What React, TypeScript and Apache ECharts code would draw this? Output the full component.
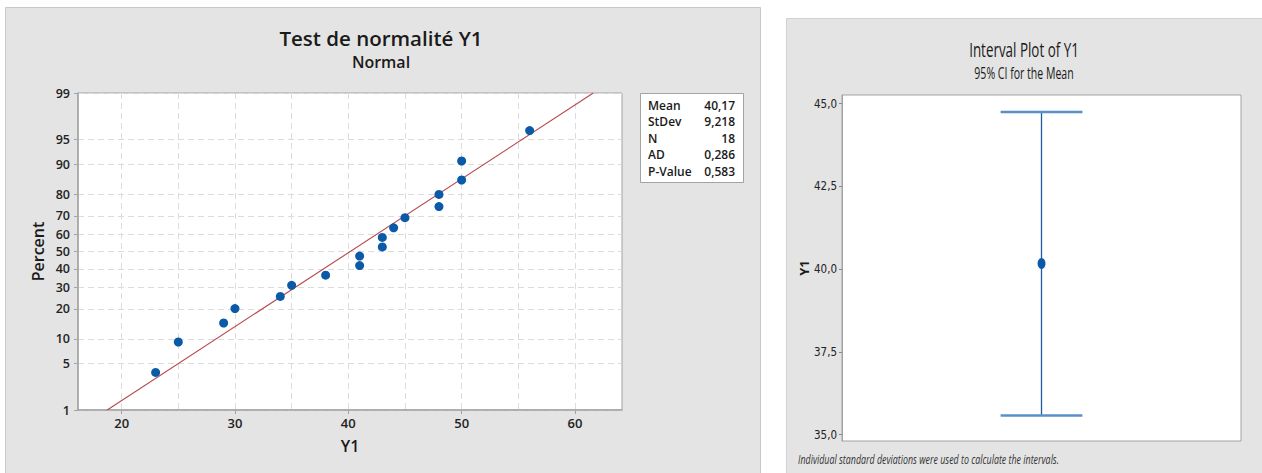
import React, { useEffect, useRef } from 'react';
import * as echarts from 'echarts';

// Sample Y1 (sorted) and the median-rank plotting percents used on the probability axis
const Y1_VALUES = [23, 25, 29, 30, 34, 35, 38, 41, 41, 43, 43, 44, 45, 48, 48, 50, 50, 56];
const PLOT_PERCENTS = [3.8, 9.2, 14.7, 20.1, 25.5, 31.0, 36.4, 41.8, 47.3, 52.7, 58.2, 63.6, 69.0, 74.5, 79.9, 85.3, 90.8, 96.2];

// Axis ticks
const PERCENT_TICKS = [1, 5, 10, 20, 30, 40, 50, 60, 70, 80, 90, 95, 99];
const X_LABEL_TICKS = [20, 30, 40, 50, 60];
const X_GRID_TICKS = [20, 25, 30, 35, 40, 45, 50, 55, 60];
const CI_TICKS = [35, 37.5, 40, 42.5, 45];

// Summary statistics
const MEAN = 40.17;
const STDEV = 9.218;
const N = 18;
const AD = 0.286;
const P_VALUE = 0.583;
const STAT_NAMES = ['Mean', 'StDev', 'N', 'AD', 'P-Value'];
const STAT_VALUES = [MEAN.toFixed(2), STDEV.toFixed(3), String(N), AD.toFixed(3), P_VALUE.toFixed(3)].map((s) =>
  s.replace('.', ',')
);

// 95% confidence interval for the mean
const CI_LOW = 35.58;
const CI_HIGH = 44.75;

// Inverse standard normal CDF (Acklam's rational approximation)
function probit(p: number): number {
  const a = [-3.969683028665376e1, 2.209460984245205e2, -2.759285104469687e2, 1.38357751867269e2, -3.066479806614716e1, 2.506628277459239];
  const b = [-5.447609879822406e1, 1.615858368580409e2, -1.556989798598866e2, 6.680131188771972e1, -1.328068155288572e1];
  const c = [-7.784894002430293e-3, -3.223964580411365e-1, -2.400758277161838, -2.549732539343734, 4.374664141464968, 2.938163982698783];
  const d = [7.784695709041462e-3, 3.224671290700398e-1, 2.445134137142996, 3.754408661907416];
  const pl = 0.02425;
  if (p < pl) {
    const q = Math.sqrt(-2 * Math.log(p));
    return (((((c[0] * q + c[1]) * q + c[2]) * q + c[3]) * q + c[4]) * q + c[5]) / ((((d[0] * q + d[1]) * q + d[2]) * q + d[3]) * q + 1);
  }
  if (p > 1 - pl) {
    const q = Math.sqrt(-2 * Math.log(1 - p));
    return -(((((c[0] * q + c[1]) * q + c[2]) * q + c[3]) * q + c[4]) * q + c[5]) / ((((d[0] * q + d[1]) * q + d[2]) * q + d[3]) * q + 1);
  }
  const q = p - 0.5;
  const r = q * q;
  return ((((((a[0] * r + a[1]) * r + a[2]) * r + a[3]) * r + a[4]) * r + a[5]) * q) / (((((b[0] * r + b[1]) * r + b[2]) * r + b[3]) * r + b[4]) * r + 1);
}

const Z_TICKS = PERCENT_TICKS.map((p) => probit(p / 100));
const Z_MIN = probit(0.01);
const Z_MAX = probit(0.99);

const FONT = "'Open Sans', 'Noto Sans', sans-serif";
const NARROW = "'Liberation Sans Narrow', 'DejaVu Sans Condensed', 'Open Sans', sans-serif";
const TEXT_COLOR = '#1a1a1a';
const PANEL_BG = '#e4e4e4';
const PANEL_BORDER = '#c9c9c9';
const FRAME = '#a3a3a3';
const GRID_LINE = '#dcdcdc';
const POINT_BLUE = '#0b5aa8';

export default function App() {
  const ref = useRef<HTMLDivElement>(null);

  useEffect(() => {
    if (!ref.current) return;
    const chart = echarts.init(ref.current, undefined, { renderer: 'svg' });

    const statTexts: any[] = [];
    STAT_NAMES.forEach((name, i) => {
      const y = 105 + i * 16.5;
      statTexts.push({
        type: 'text', x: 648, y, z: 100,
        style: { text: name, font: `600 12px ${FONT}`, fill: TEXT_COLOR, textAlign: 'left', textVerticalAlign: 'middle' },
      });
      statTexts.push({
        type: 'text', x: 735, y, z: 100,
        style: { text: STAT_VALUES[i], font: `600 12px ${FONT}`, fill: TEXT_COLOR, textAlign: 'right', textVerticalAlign: 'middle' },
      });
    });

    const option: any = {
      animation: false,
      backgroundColor: '#ffffff',
      graphic: [
        // panel backgrounds
        { type: 'rect', z: -10, shape: { x: 5.5, y: 7.5, width: 755, height: 470 }, style: { fill: PANEL_BG, stroke: PANEL_BORDER, lineWidth: 1 } },
        { type: 'rect', z: -10, shape: { x: 786.5, y: 18.5, width: 480, height: 460 }, style: { fill: PANEL_BG, stroke: '#d2d2d2', lineWidth: 1 } },
        // probability plot titles
        { type: 'text', x: 381, y: 38, z: 100, style: { text: 'Test de normalité Y1', font: `600 20.5px ${FONT}`, fill: TEXT_COLOR, textAlign: 'center', textVerticalAlign: 'middle' } },
        { type: 'text', x: 381, y: 62, z: 100, style: { text: 'Normal', font: `600 16px ${FONT}`, fill: TEXT_COLOR, textAlign: 'center', textVerticalAlign: 'middle' } },
        // statistics box
        { type: 'rect', z: 5, shape: { x: 640.5, y: 93.5, width: 103, height: 89 }, style: { fill: '#ffffff', stroke: FRAME, lineWidth: 1 } },
        ...statTexts,
        // interval plot titles
        { type: 'text', x: 1024, y: 49, z: 100, scaleX: 0.67, style: { text: 'Interval Plot of Y1', font: `400 20px ${FONT}`, fill: TEXT_COLOR, textAlign: 'center', textVerticalAlign: 'middle' } },
        { type: 'text', x: 1024, y: 73, z: 100, scaleX: 0.68, style: { text: '95% CI for the Mean', font: `400 15.5px ${FONT}`, fill: TEXT_COLOR, textAlign: 'center', textVerticalAlign: 'middle' } },
        { type: 'text', x: 798, y: 459, z: 100, scaleX: 0.74, style: { text: 'Individual standard deviations were used to calculate the intervals.', font: `italic 400 12px ${FONT}`, fill: '#333333', textAlign: 'left', textVerticalAlign: 'middle' } },
      ],
      grid: [
        { left: 78, top: 93, width: 544, height: 317, show: true, backgroundColor: '#ffffff', borderColor: FRAME, borderWidth: 1, containLabel: false, outerBoundsMode: 'none' },
        { left: 842, top: 95, width: 399, height: 346, show: true, backgroundColor: '#ffffff', borderColor: FRAME, borderWidth: 1, containLabel: false, outerBoundsMode: 'none' },
      ],
      xAxis: [
        {
          type: 'value', gridIndex: 0, min: 16.15, max: 64.15, position: 'bottom',
          name: 'Y1', nameLocation: 'middle', nameGap: 28,
          nameTextStyle: { fontFamily: FONT, fontSize: 16, fontWeight: 600, color: TEXT_COLOR },
          axisLine: { show: true, onZero: false, lineStyle: { color: FRAME, width: 1.5 } },
          axisTick: { show: true, length: 4, lineStyle: { color: FRAME }, customValues: X_LABEL_TICKS },
          axisLabel: { customValues: X_LABEL_TICKS, margin: 6, fontFamily: FONT, fontSize: 13, fontWeight: 600, color: '#222' },
          splitLine: { show: false },
        },
        {
          type: 'value', gridIndex: 0, min: 16.15, max: 64.15, position: 'bottom',
          axisLine: { show: false, onZero: false },
          axisTick: { show: false, customValues: X_GRID_TICKS },
          axisLabel: { show: false, customValues: X_GRID_TICKS },
          splitLine: { show: true, lineStyle: { color: GRID_LINE, type: [6, 4], width: 1 } },
        },
        {
          type: 'category', gridIndex: 1, data: ['Y1'], show: false,
          axisLine: { onZero: false },
        },
      ],
      yAxis: [
        {
          type: 'value', gridIndex: 0, min: Z_MIN, max: Z_MAX,
          name: 'Percent', nameLocation: 'middle', nameGap: 32, nameRotate: 90,
          nameTextStyle: { fontFamily: FONT, fontSize: 16, fontWeight: 600, color: TEXT_COLOR },
          axisLine: { show: true, onZero: false, lineStyle: { color: FRAME, width: 1.5 } },
          axisTick: { show: true, length: 4, lineStyle: { color: FRAME }, customValues: Z_TICKS },
          axisLabel: {
            customValues: Z_TICKS, margin: 8, fontFamily: FONT, fontSize: 12.5, fontWeight: 600, color: '#222',
            formatter: (v: number) => {
              const i = Z_TICKS.findIndex((z) => Math.abs(z - v) < 1e-6);
              return i >= 0 ? String(PERCENT_TICKS[i]) : '';
            },
          },
          splitLine: { show: true, lineStyle: { color: GRID_LINE, type: [6, 4], width: 1 } },
        },
        {
          type: 'value', gridIndex: 1, min: 34.81, max: 45.26,
          name: 'Y1', nameLocation: 'middle', nameGap: 29, nameRotate: 90,
          nameTextStyle: { fontFamily: FONT, fontSize: 13, fontWeight: 700, color: TEXT_COLOR },
          axisLine: { show: true, onZero: false, lineStyle: { color: FRAME, width: 1 } },
          axisTick: { show: true, length: 3, lineStyle: { color: '#888' }, customValues: CI_TICKS },
          axisLabel: {
            customValues: CI_TICKS, margin: 5, fontFamily: NARROW, fontSize: 11.5, color: '#222',
            formatter: (v: number) => v.toFixed(1).replace('.', ','),
          },
          splitLine: { show: false },
        },
      ],
      series: [
        {
          name: 'Normal fit',
          type: 'line', xAxisIndex: 0, yAxisIndex: 0,
          data: [
            [MEAN + STDEV * Z_MIN, Z_MIN],
            [MEAN + STDEV * Z_MAX, Z_MAX],
          ],
          showSymbol: false, symbol: 'none',
          lineStyle: { color: '#b8484c', width: 1.1 },
          clip: true, z: 3,
        },
        {
          name: 'Y1',
          type: 'scatter', xAxisIndex: 0, yAxisIndex: 0,
          data: Y1_VALUES.map((v, i) => [v, probit(PLOT_PERCENTS[i] / 100)]),
          symbol: 'circle', symbolSize: 9,
          itemStyle: { color: POINT_BLUE, opacity: 1 },
          z: 4,
        },
        {
          name: '95% CI',
          type: 'custom', xAxisIndex: 2, yAxisIndex: 1,
          data: [[0, CI_LOW, CI_HIGH]],
          renderItem: (params: any, api: any) => {
            const lo = api.coord([api.value(0), api.value(1)]);
            const hi = api.coord([api.value(0), api.value(2)]);
            const half = api.size([1, 0])[0] * 0.1025;
            return {
              type: 'group',
              children: [
                { type: 'line', shape: { x1: lo[0], y1: lo[1], x2: hi[0], y2: hi[1] }, style: { stroke: '#1f5ba0', lineWidth: 1.3 } },
                { type: 'line', shape: { x1: hi[0] - half, y1: hi[1], x2: hi[0] + half, y2: hi[1] }, style: { stroke: '#5b8fc8', lineWidth: 2.5 } },
                { type: 'line', shape: { x1: lo[0] - half, y1: lo[1], x2: lo[0] + half, y2: lo[1] }, style: { stroke: '#5b8fc8', lineWidth: 2.5 } },
              ],
            };
          },
          z: 3,
        },
        {
          name: 'Mean',
          type: 'scatter', xAxisIndex: 2, yAxisIndex: 1,
          data: [[0, MEAN]],
          symbol: 'circle', symbolSize: [8, 11],
          itemStyle: { color: POINT_BLUE, opacity: 1 },
          z: 4,
        },
      ],
    };

    chart.setOption(option);
    return () => chart.dispose();
  }, []);

  return <div ref={ref} style={{ position: 'fixed', left: 0, top: 0, width: 1262, height: 473 }} />;
}
